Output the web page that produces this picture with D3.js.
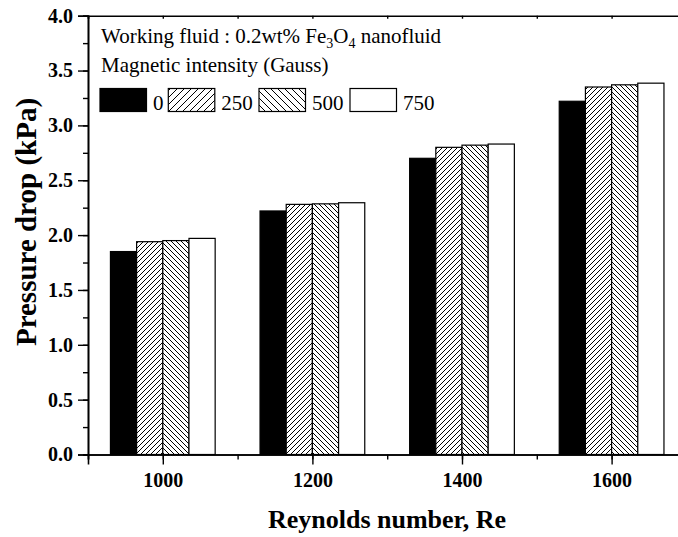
<!DOCTYPE html>
<html><head><meta charset="utf-8">
<script src="https://cdn.jsdelivr.net/npm/d3@7/dist/d3.min.js"></script>
<style>body{margin:0;background:#fff;} svg{display:block;}</style>
</head><body>
<svg id="c" width="678" height="537"></svg>
<script>
const categories = [1000, 1200, 1400, 1600];
const seriesNames = ["0", "250", "500", "750"];
const values0   = [1.85, 2.22, 2.70, 3.22];
const values250 = [1.94, 2.28, 2.80, 3.35];
const values500 = [1.95, 2.285, 2.82, 3.37];
const values750 = [1.97, 2.295, 2.83, 3.385];
const yTicks = [0, 0.5, 1.0, 1.5, 2.0, 2.5, 3.0, 3.5, 4.0];
const xTicks = [1000, 1200, 1400, 1600];
const series = [values0, values250, values500, values750];

const svg = d3.select("#c");
const font = "Liberation Serif, Times New Roman, serif";
const x = d3.scaleLinear().domain([900, 1700]).range([88, 686.4]);
const y = d3.scaleLinear().domain([0, 4]).range([454.5, 15.7]);

const defs = svg.append("defs");
function hatch(id, size, dir) {
  const p = defs.append("pattern").attr("id", id).attr("patternUnits", "userSpaceOnUse")
    .attr("width", size).attr("height", size);
  p.append("rect").attr("width", size).attr("height", size).attr("fill", "#fff");
  const d = dir > 0
    ? `M0,${size} L${size},0 M${-size/2},${size/2} L${size/2},${-size/2} M${size/2},${size*1.5} L${size*1.5},${size/2}`
    : `M0,0 L${size},${size} M${-size/2},${size/2} L${size/2},${size*1.5} M${size/2},${-size/2} L${size*1.5},${size/2}`;
  p.append("path").attr("d", d).attr("stroke", "#000").attr("stroke-width", 1);
}
hatch("h250", 5, 1); hatch("h500", 5, -1);
hatch("l250", 7, 1); hatch("l500", 7, -1);
const fills = ["#000", "url(#h250)", "url(#h500)", "#fff"];
const lfills = ["#000", "url(#l250)", "url(#l500)", "#fff"];

const bw = x(1035) - x(1000);
series.forEach((vals, si) => {
  svg.append("g").selectAll("rect").data(categories).join("rect")
    .attr("x", (c) => x(c) + (si - 2) * bw)
    .attr("width", bw)
    .attr("y", (c, i) => y(vals[i]))
    .attr("height", (c, i) => y(0) - y(vals[i]))
    .attr("fill", fills[si]).attr("stroke", "#000").attr("stroke-width", 1.2);
});

// axes
const gx = svg.append("g").attr("transform", `translate(0,${y(0)})`);
gx.call(d3.axisBottom(x).tickValues(d3.range(900, 1701, 100)).tickSize(5).tickFormat(""));
gx.append("g").call(d3.axisBottom(x).tickValues(xTicks).tickSize(10).tickFormat(d3.format("d")));
const gxt = svg.append("g").attr("transform", `translate(0,${y(4)})`);
gxt.call(d3.axisTop(x).tickValues(d3.range(900, 1701, 100)).tickSize(-3).tickFormat(""));
const gy = svg.append("g").attr("transform", `translate(${x(900)},0)`);
gy.call(d3.axisLeft(y).tickValues(d3.range(0, 4.01, 0.25)).tickSize(5).tickFormat(""));
gy.append("g").call(d3.axisLeft(y).tickValues(yTicks).tickSize(10).tickFormat(d3.format(".1f")));
svg.selectAll(".domain").attr("stroke", "#000").attr("stroke-width", 1.6);
svg.selectAll(".tick line").attr("stroke", "#000").attr("stroke-width", 1.4);
svg.selectAll(".tick text").attr("font-family", font).attr("font-weight", "bold")
  .attr("font-size", 20).attr("fill", "#000");
gx.selectAll(".tick text").attr("dy", "0.97em");
gy.selectAll(".tick text").attr("dx", "-0.1em");

// axis titles
svg.append("text").attr("x", 387).attr("y", 528).attr("text-anchor", "middle")
  .attr("font-family", font).attr("font-weight", "bold").attr("font-size", 26)
  .text("Reynolds number, Re");
svg.append("text").attr("transform", `translate(36,222) rotate(-90)`).attr("text-anchor", "middle")
  .attr("font-family", font).attr("font-weight", "bold").attr("font-size", 29)
  .text("Pressure drop (kPa)");

// legend
const lt = svg.append("text").attr("x", 101).attr("y", 43).attr("font-family", font).attr("font-size", 21);
lt.append("tspan").text("Working fluid : 0.2wt% Fe");
lt.append("tspan").attr("font-size", 14).attr("dy", 5).text("3");
lt.append("tspan").attr("dy", -5).text("O");
lt.append("tspan").attr("font-size", 14).attr("dy", 5).text("4");
lt.append("tspan").attr("dy", -5).text(" nanofluid");
svg.append("text").attr("x", 101).attr("y", 72).attr("font-family", font).attr("font-size", 21)
  .text("Magnetic intensity (Gauss)");
const lx = [100, 168.3, 259, 350];
seriesNames.forEach((n, i) => {
  svg.append("rect").attr("x", lx[i]).attr("y", 88.5).attr("width", 46.5).attr("height", 23)
    .attr("fill", lfills[i]).attr("stroke", "#000").attr("stroke-width", 1.2);
  svg.append("text").attr("x", lx[i] + 53).attr("y", 110).attr("font-family", font).attr("font-size", 21)
    .text(n);
});
</script>
</body></html>
